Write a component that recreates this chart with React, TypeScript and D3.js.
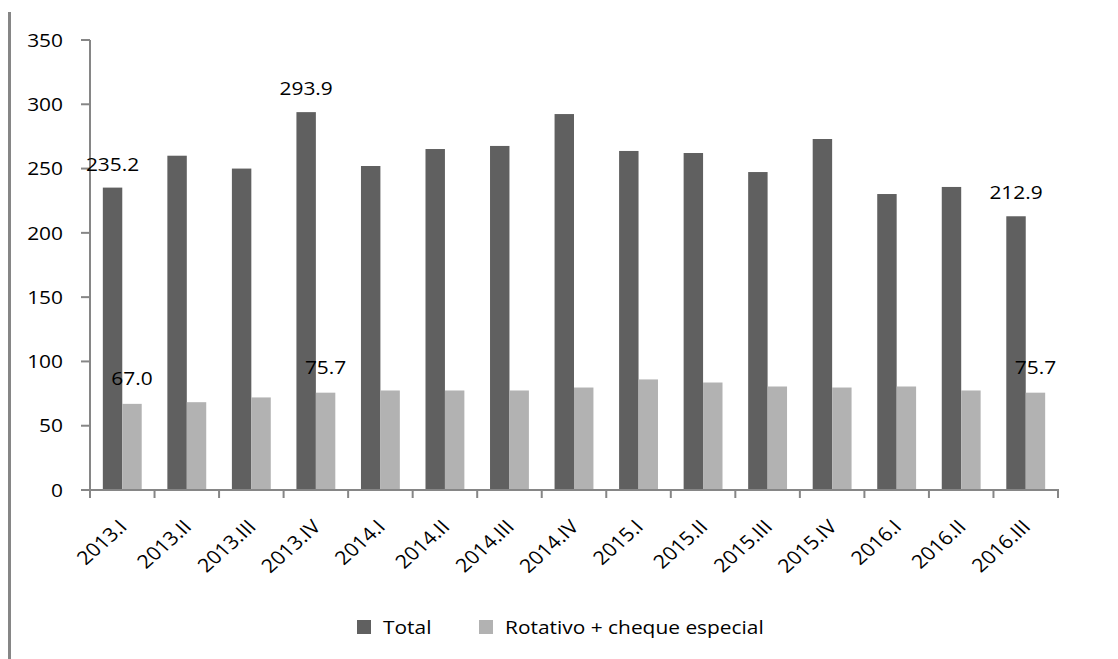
import React from "react";
import * as d3 from "d3";

const categories = ["2013.I","2013.II","2013.III","2013.IV","2014.I","2014.II","2014.III","2014.IV","2015.I","2015.II","2015.III","2015.IV","2016.I","2016.II","2016.III"];
const totalValues = [235.2,260.0,250.0,293.9,252.0,265.2,267.6,292.4,263.7,262.1,247.3,273.0,230.2,235.7,212.9];
const rotativoValues = [67.0,68.3,72.0,75.7,77.4,77.4,77.4,79.7,86.0,83.6,80.5,79.7,80.5,77.4,75.7];
const seriesNames = ["Total","Rotativo + cheque especial"];
const yTicks = [0,50,100,150,200,250,300,350];
const labelledIndexes = [0,3,14];

const W = 1118, H = 659;
const FONT = "'Open Sans', 'Liberation Sans', sans-serif";
const colors = ["#606060", "#b2b2b2"];
const axisColor = "#868686";
const SX = 1.1;

function T(props: { x: number; y: number; anchor?: string; size?: number; dy?: string; children: React.ReactNode }) {
  return (
    <text transform={`translate(${props.x},${props.y}) scale(${SX},1)`} textAnchor={props.anchor || "start"} dy={props.dy} fontSize={props.size || 19} fill="#000">
      {props.children}
    </text>
  );
}

export default function App() {
  const x = d3.scaleBand<string>().domain(categories).range([90, 1058]).paddingInner(0).paddingOuter(0);
  const inner = d3.scaleBand<string>().domain(seriesNames).range([0, x.bandwidth()]).paddingInner(0).paddingOuter(0.66);
  const y = d3.scaleLinear().domain([0, 350]).range([490, 40]);
  const data = [totalValues, rotativoValues];
  const boundaries = [...categories.map((c) => x(c) as number), 1058];

  return (
    <svg width={W} height={H} style={{ position: "absolute", left: 0, top: 0, background: "#fff" }} fontFamily={FONT}>
      <line x1={9.5} x2={9.5} y1={12} y2={H} stroke={axisColor} strokeWidth={3} />
      {data.map((vals, s) =>
        vals.map((v, i) => (
          <rect key={`${s}-${i}`} x={(x(categories[i]) as number) + (inner(seriesNames[s]) as number)} y={y(v)} width={inner.bandwidth()} height={y(0) - y(v)} fill={colors[s]} />
        ))
      )}
      <line x1={90} x2={90} y1={y(350)} y2={y(0)} stroke={axisColor} strokeWidth={2} />
      {yTicks.map((t) => (
        <g key={t}>
          <line x1={81} x2={90} y1={y(t)} y2={y(t)} stroke={axisColor} strokeWidth={2} />
          <T x={63} y={y(t)} dy="0.35em" anchor="end">{t}</T>
        </g>
      ))}
      <line x1={89} x2={1059} y1={y(0)} y2={y(0)} stroke={axisColor} strokeWidth={2} />
      {boundaries.map((b, i) => (
        <line key={i} x1={b} x2={b} y1={y(0)} y2={y(0) + 8} stroke={axisColor} strokeWidth={2} />
      ))}
      {categories.map((c) => {
        const cx = (x(c) as number) + x.bandwidth() / 2 + 6;
        const cy = y(0) + 38;
        return (
          <text key={c} transform={`translate(${cx},${cy}) scale(1.12,1) rotate(-45)`} textAnchor="end" fontSize={19} fill="#000">{c}</text>
        );
      })}
      {data.map((vals, s) =>
        labelledIndexes.map((i) => {
          const cx = (x(categories[i]) as number) + (inner(seriesNames[s]) as number) + inner.bandwidth() / 2;
          return (
            <T key={`l-${s}-${i}`} x={cx} y={y(vals[i]) - (s === 0 ? 17 : 19)} anchor="middle">{vals[i].toFixed(1)}</T>
          );
        })
      )}
      <rect x={357} y={620} width={14} height={14} fill={colors[0]} />
      <T x={383} y={634}>{seriesNames[0]}</T>
      <rect x={479} y={620} width={14} height={14} fill={colors[1]} />
      <T x={505} y={634}>{seriesNames[1]}</T>
    </svg>
  );
}
